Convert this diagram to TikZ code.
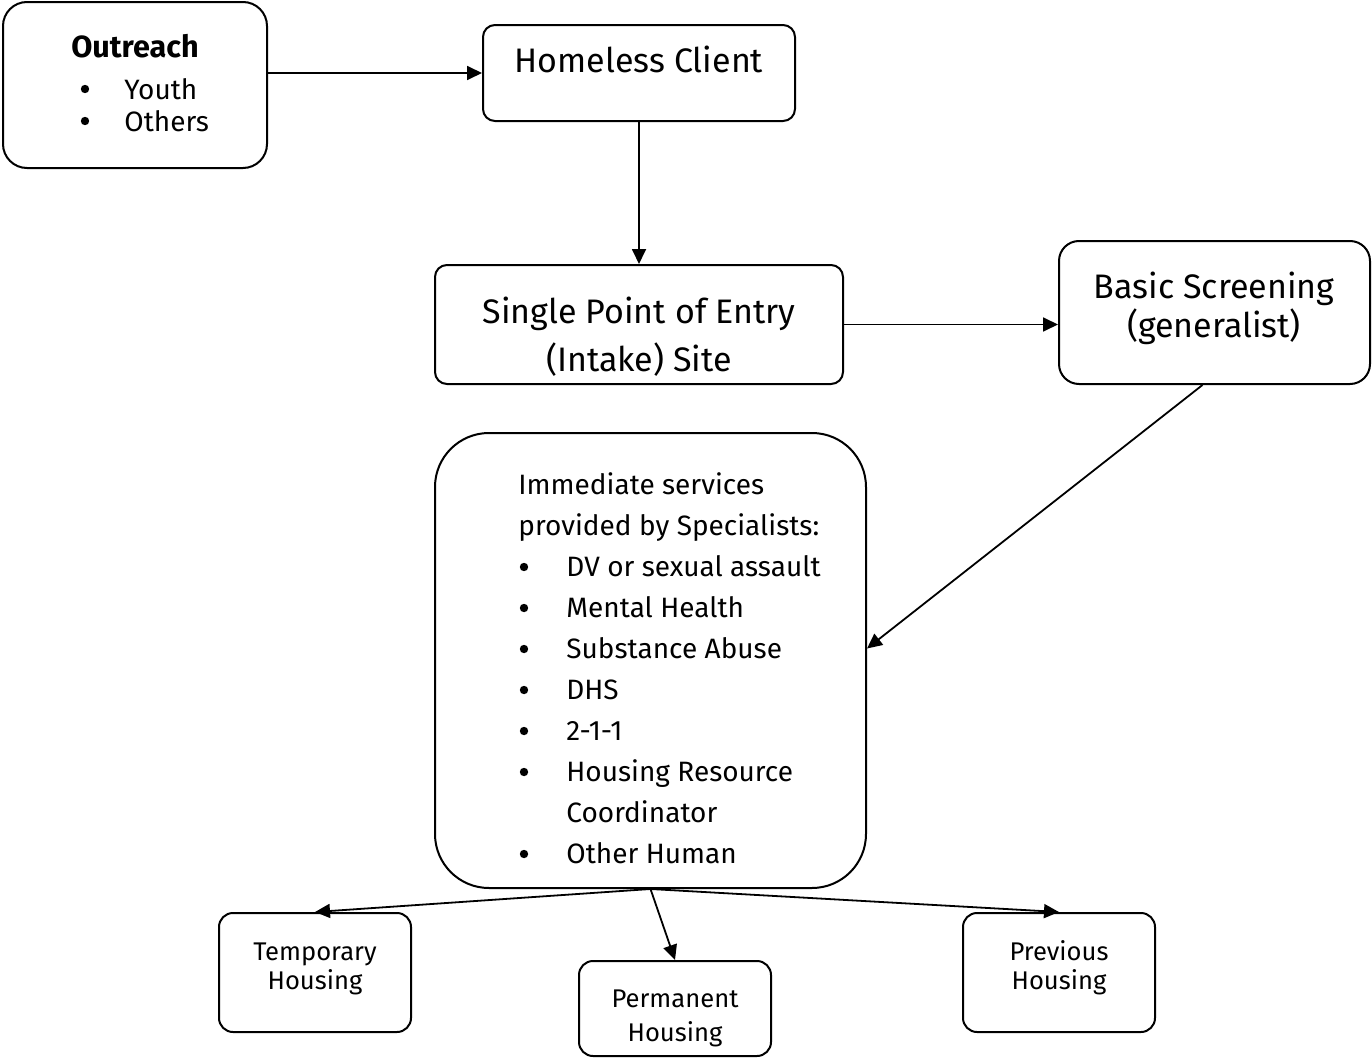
\documentclass[tikz,border=0pt]{standalone}
\usepackage{fontspec}
\setmainfont{Fira Sans}
\usepackage{tikz}
\usetikzlibrary{arrows.meta}

\begin{document}
\begin{tikzpicture}[
    x=0.5pt,y=-0.5pt,
    every node/.style={font=\fontsize{14pt}{16pt}\selectfont,inner sep=0pt},
    box/.style={rectangle,draw,line width=1pt,rounded corners=6pt,inner sep=0pt},
    bigtxt/.style={font=\fontsize{17pt}{20pt}\selectfont,anchor=base},
    smalltxt/.style={font=\fontsize{12.8pt}{15pt}\selectfont,anchor=base},
    item/.style={anchor=base west},
    dot/.style={circle,fill,inner sep=0pt,minimum size=4.2pt},
    flow/.style={-{Triangle[length=7.5pt,width=7pt]},line width=0.9pt}
]
\useasboundingbox (0,0) rectangle (1372,1060);

% Boxes
\node[box,rounded corners=12pt,minimum width=132pt,minimum height=83pt] (outreach) at (135,85) {};
\node[box,minimum width=156pt,minimum height=48pt]    (client)   at (639,73)     {};
\node[box,minimum width=204pt,minimum height=59.5pt]  (entry)    at (639,324.5)  {};
\node[box,rounded corners=10pt,minimum width=155.5pt,minimum height=71.5pt] (screen) at (1214.5,312.5) {};
\node[box,rounded corners=27pt,minimum width=215.5pt,minimum height=227.5pt] (services) at (650.5,660.5) {};
\node[box,rounded corners=7pt,minimum width=96pt,minimum height=59.5pt] (temp) at (315,972.5)  {};
\node[box,rounded corners=7pt,minimum width=96pt,minimum height=47.5pt] (perm) at (675,1008.5) {};
\node[box,rounded corners=7pt,minimum width=96pt,minimum height=59.5pt] (prev) at (1059,972.5) {};

% Outreach text
\node[anchor=base,font=\fontsize{15.3pt}{18pt}\selectfont\bfseries] (outtitle) at (135,57) {Outreach};
\node[dot]  (outb1)  at (85,89)   {};
\node[item] (youth)  at (124,99)  {Youth};
\node[dot]  (outb2)  at (85,121)  {};
\node[item] (others) at (124,131) {Others};

% Box labels
\node[bigtxt] (clienttxt)  at (639,72)   {Homeless Client};
\node[bigtxt] (entrytxt1)  at (639,323)  {Single Point of Entry};
\node[bigtxt] (entrytxt2)  at (639,371)  {(Intake) Site};
\node[bigtxt] (screentxt1) at (1214,298) {Basic Screening};
\node[bigtxt] (screentxt2) at (1214,337) {(generalist)};

% Specialist list
\node[item] (svchead1) at (518,494) {Immediate services};
\node[item] (svchead2) at (518,535) {provided by Specialists:};
\foreach \y/\txt [count=\i] in {576/DV or sexual assault,617/Mental Health,658/Substance Abuse,
    699/DHS,740/2-1-1,781/Housing Resource,863/Other Human}{
  \node[dot]  (svcb\i) at (524,\y-9) {};
  \node[item] (svc\i)  at (566,\y)   {\txt};
}
\node[item] (svccoord) at (566,822) {Coordinator};

% Housing labels
\node[smalltxt] (temptxt1) at (315,960)  {Temporary};
\node[smalltxt] (temptxt2) at (315,989)  {Housing};
\node[smalltxt] (permtxt1) at (675,1007) {Permanent};
\node[smalltxt] (permtxt2) at (675,1041) {Housing};
\node[smalltxt] (prevtxt1) at (1059,960) {Previous};
\node[smalltxt] (prevtxt2) at (1059,989) {Housing};

% Arrows
\draw[flow] (outreach.east |- client.west) -- (client.west);
\draw[flow] (client.south) -- (entry.north);
\draw[flow] (entry.east) -- (entry.east -| screen.west);
\draw[flow] ([xshift=-6pt]screen.south) -- ([yshift=6pt]services.east);
\draw[flow] (services.south) -- (temp.north);
\draw[flow] (services.south) -- (perm.north);
\draw[flow] (services.south) -- (prev.north);

\end{tikzpicture}
\end{document}
